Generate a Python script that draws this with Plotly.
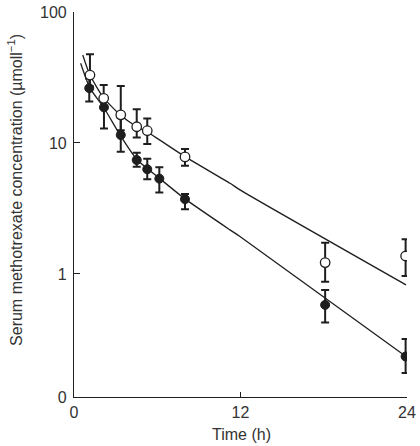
import plotly.graph_objects as go

# Open circles (data points)
open_t = [1.15, 2.14, 3.37, 4.52, 5.28, 8.0, 18.1, 23.9]
open_y = [33.0, 21.9, 16.4, 13.3, 12.4, 7.82, 1.22, 1.37]
open_hi = [47.5, 27.7, 27.2, 18.1, 15.4, 9.0, 1.73, 1.84]
open_lo = [27.0, 18.7, 12.5, 11.0, 9.8, 6.71, 0.873, 0.965]

# Filled circles (data points)
fill_t = [1.1, 2.16, 3.37, 4.52, 5.28, 6.15, 8.0, 18.1, 23.9]
fill_y = [26.2, 18.7, 11.5, 7.41, 6.30, 5.34, 3.72, 0.580, 0.234]
fill_hi = [31.0, 21.5, 15.5, 8.43, 7.59, 6.53, 4.08, 0.755, 0.318]
fill_lo = [20.7, 12.9, 8.58, 6.59, 5.28, 4.18, 3.12, 0.425, 0.175]

# Fitted curves
open_curve_t = [0.63, 1.15, 2.11, 3.32, 4.52, 5.24, 8.0, 11.24, 11.96, 23.93]
open_curve_y = [47.0, 33.0, 22.3, 16.4, 13.3, 12.2, 7.86, 4.92, 4.38, 0.824]
fill_curve_t = [0.48, 1.15, 2.11, 3.32, 4.52, 6.15, 8.0, 11.24, 11.96, 23.93]
fill_curve_y = [40.6, 26.2, 18.9, 11.5, 7.51, 5.38, 3.74, 2.17, 1.93, 0.234]

x_ticks = [0, 12, 24]
y_tickvals = [0.115, 1, 10, 100]
y_ticktext = ["0", "1", "10", "100"]

ink = "#1e1e1e"
txt = "#333333"
fig = go.Figure()

for ct, cy in [(open_curve_t, open_curve_y), (fill_curve_t, fill_curve_y)]:
    fig.add_trace(go.Scatter(x=ct, y=cy, mode="lines",
                             line=dict(color=ink, width=1.3, shape="spline", smoothing=0.6),
                             showlegend=False, hoverinfo="skip"))

def err(vals, hi, lo):
    return dict(type="data", symmetric=False,
                array=[h - v for v, h in zip(vals, hi)],
                arrayminus=[v - l for v, l in zip(vals, lo)],
                color=ink, thickness=2, width=4)

fig.add_trace(go.Scatter(x=fill_t, y=fill_y, mode="markers",
                         marker=dict(symbol="circle", size=9, color=ink, line=dict(color=ink, width=1)),
                         error_y=err(fill_y, fill_hi, fill_lo), showlegend=False))
fig.add_trace(go.Scatter(x=open_t, y=open_y, mode="markers",
                         marker=dict(symbol="circle", size=9.5, color="white", line=dict(color=ink, width=1.3)),
                         error_y=err(open_y, open_hi, open_lo), showlegend=False))

fig.update_layout(
    template="none",
    width=420, height=446,
    margin=dict(l=74, r=13, t=12, b=49, autoexpand=False),
    paper_bgcolor="white", plot_bgcolor="white",
    font=dict(family="Liberation Sans, Arial, sans-serif", size=16, color=txt),
    xaxis=dict(range=[0, 24], tickvals=x_ticks, ticks="inside", ticklen=5, tickwidth=1, tickcolor=ink,
               showline=True, linecolor=ink, linewidth=1.2, showgrid=False, zeroline=False,
               automargin=False, ticklabelstandoff=1, tickfont=dict(size=16, color=txt)),
    yaxis=dict(type="log", range=[-0.94, 2.0], tickvals=y_tickvals, ticktext=y_ticktext,
               ticks="inside", ticklen=6, tickwidth=1, tickcolor=ink,
               showline=True, linecolor=ink, linewidth=1.2, showgrid=False, zeroline=False,
               automargin=False, ticklabelstandoff=3, tickfont=dict(size=16, color=txt)),
    annotations=[
        dict(text="Serum methotrexate concentration (µmoll<sup>−1</sup>)",
             xref="paper", yref="paper", x=-0.177, y=0.538, textangle=-90,
             showarrow=False, xanchor="center", yanchor="middle",
             font=dict(size=16, color=txt)),
        dict(text="Time (h)", xref="paper", yref="paper", x=0.503, y=-0.097,
             showarrow=False, xanchor="center", yanchor="middle",
             font=dict(size=16, color=txt)),
    ],
)

fig.write_html("out.html",
               config={"displayModeBar": False},
               post_script="document.body.style.margin='0';document.body.style.padding='0';document.body.style.overflow='hidden';")
